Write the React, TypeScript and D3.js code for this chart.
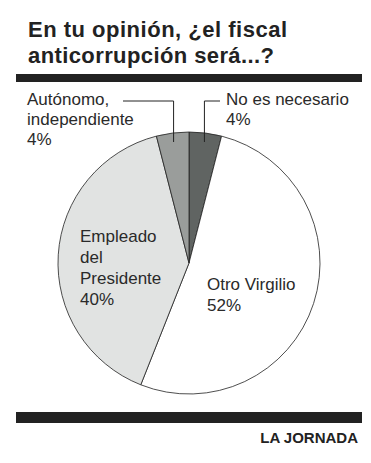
import * as d3 from 'd3';
import React from 'react';

// data
const labels = ['No es necesario', 'Otro Virgilio', 'Empleado del Presidente', 'Autónomo, independiente'];
const values = [4, 52, 40, 4];
const fills = ['#606462', '#ffffff', '#e1e3e2', '#9a9d9b'];
const title = ['En tu opinión, ¿el fiscal', 'anticorrupción será...?'];

const W = 371;
const H = 463;

const App = () => {
  const cx = 189;
  const cy = 263;
  const r = 131;

  const pie = d3.pie<number>().sort(null).value((d) => d);
  const arcs = pie(values);
  const arc = d3.arc<d3.PieArcDatum<number>>().innerRadius(0).outerRadius(r);

  // leader anchor inside the small slices
  const inner = d3.arc<d3.PieArcDatum<number>>().innerRadius(0).outerRadius(2 * 123);
  const ptNo = inner.centroid(arcs[0]);
  const ptAu = inner.centroid(arcs[3]);

  const font = 'Liberation Sans, Arial, sans-serif';
  const txt = '#2a2a2a';

  return (
    <svg width={W} height={H} style={{ position: 'absolute', left: 0, top: 0, background: '#fff' }}>
      {/* title */}
      <g fontFamily={font} fontWeight="bold" fontSize={22} fill="#222">
        <text x={28} y={37} textLength={259} lengthAdjust="spacing">{title[0]}</text>
        <text x={28} y={63} textLength={246} lengthAdjust="spacing">{title[1]}</text>
      </g>
      <rect x={16} y={74} width={346} height={8} fill="#222" />

      {/* pie */}
      <g transform={`translate(${cx},${cy})`}>
        {arcs.map((a, i) => (
          <path key={labels[i]} d={arc(a) || ''} fill={fills[i]} stroke="#222" strokeWidth={0.8} />
        ))}
      </g>

      {/* leaders */}
      <g stroke="#222" strokeWidth={1} fill="none">
        <polyline points={`${123},101 ${cx + ptAu[0]},101 ${cx + ptAu[0]},142`} />
        <polyline points={`${220},101 ${cx + ptNo[0]},101 ${cx + ptNo[0]},142`} />
      </g>

      {/* labels */}
      <g fontFamily={font} fontSize={17} fill={txt}>
        <text x={27} y={105}>Autónomo,</text>
        <text x={27} y={125}>independiente</text>
        <text x={27} y={145}>{values[3]}%</text>

        <text x={226} y={105}>No es necesario</text>
        <text x={226} y={125}>{values[0]}%</text>

        <text x={80} y={242}>Empleado</text>
        <text x={80} y={263}>del</text>
        <text x={80} y={284}>Presidente</text>
        <text x={80} y={305}>{values[2]}%</text>

        <text x={207} y={290}>Otro Virgilio</text>
        <text x={207} y={311}>{values[1]}%</text>
      </g>

      <rect x={16} y={412} width={346} height={11} fill="#222" />
      <text x={358} y={443} textAnchor="end" fontFamily={font} fontWeight="bold" fontSize={15} fill="#222">
        LA JORNADA
      </text>
    </svg>
  );
};

export default App;
